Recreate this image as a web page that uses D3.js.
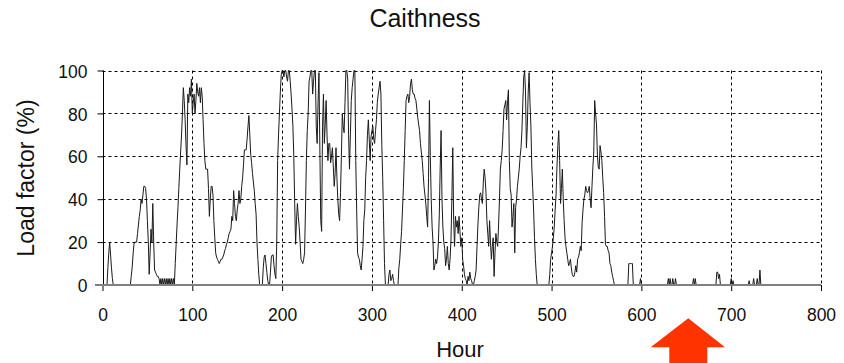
<!DOCTYPE html>
<html>
<head>
<meta charset="utf-8">
<script src="https://cdn.jsdelivr.net/npm/d3@7"></script>
<style>
  html, body { margin: 0; padding: 0; background: #fff; }
  svg { display: block; }
  text { font-family: Arial, "Liberation Sans", sans-serif; fill: #111; }
</style>
</head>
<body>
<script>
// Hourly load factor (%) for Caithness, hours 0..743 (one value per hour)
const loadFactor = [
  0,0,0,0,0,0,8,15,20,14,
  8,3,0,0,0,0,0,0,0,0,
  0,0,0,0,0,0,0,0,0,0,
  0,0,4,8,14,19,20,20,20,24,
  28,32,35,40,38,42,46,46,45,40,
  30,20,5,15,26,20,38,20,7,6,
  5,4,4,3,0,3,0,3,0,3,
  0,3,0,3,0,3,0,3,0,3,
  0,10,19,28,36,45,54,62,70,80,
  92,86,77,65,56,89,85,92,88,96,
  80,85,89,80,86,94,90,88,92,85,
  92,88,77,66,58,54,54,54,45,32,
  40,46,46,42,30,22,15,13,12,11,
  10,11,12,12,13,14,16,17,19,20,
  22,24,25,26,32,30,44,38,32,30,
  35,38,44,38,40,46,50,56,63,63,
  63,68,74,79,70,61,57,52,48,44,
  38,33,20,12,5,0,0,0,0,8,
  13,14,10,6,2,0,0,6,13,14,
  14,9,5,3,20,58,70,80,90,98,
  100,100,97,100,100,97,95,100,100,95,
  89,82,74,60,38,19,30,38,32,27,
  20,12,11,10,12,15,35,58,72,80,
  95,97,100,100,89,95,100,100,74,66,
  85,99,64,30,25,74,89,66,75,86,
  70,58,66,66,57,60,64,55,46,52,
  64,50,40,33,30,43,60,80,74,71,
  85,100,100,96,70,54,70,86,92,96,
  100,100,58,35,15,13,12,9,7,12,
  18,30,35,50,58,70,77,68,58,69,
  72,74,68,66,72,77,85,89,92,95,
  89,65,50,30,10,0,0,0,0,5,
  7,2,3,5,2,0,0,0,0,0,
  8,12,19,25,35,45,58,72,86,88,
  89,85,88,94,96,91,89,89,87,86,
  82,78,75,72,66,62,58,52,46,42,
  38,32,27,50,86,60,40,27,20,7,
  9,12,10,13,20,33,55,72,40,27,
  20,17,9,12,18,10,7,12,21,40,
  64,30,18,32,27,30,24,32,25,18,
  22,12,9,5,3,2,0,4,2,6,
  3,2,0,0,2,4,7,18,28,36,
  42,43,40,38,48,54,50,43,30,24,
  18,30,20,12,18,22,4,15,24,20,
  18,28,40,54,58,63,72,82,84,86,
  77,86,91,58,45,42,27,32,38,15,
  36,40,46,50,54,60,64,72,85,97,
  100,90,64,74,90,99,85,74,55,45,
  35,22,12,5,0,0,0,0,0,0,
  0,0,0,0,0,0,0,0,5,12,
  15,18,22,27,35,42,55,65,72,58,
  38,45,54,40,30,22,18,15,12,9,
  10,12,8,5,4,4,6,9,6,12,
  13,15,18,16,29,35,40,42,46,44,
  43,44,46,40,36,46,55,62,86,80,
  75,61,55,54,65,62,58,50,43,32,
  19,18,18,16,15,10,9,6,4,2,
  0,0,0,0,0,0,0,0,0,0,
  0,0,0,0,0,0,10,10,10,10,
  10,0,0,0,0,0,0,0,0,3,
  0,0,0,0,0,0,0,0,0,0,
  0,0,0,0,0,0,0,0,0,0,
  0,0,0,0,0,0,0,0,0,0,
  3,0,3,0,0,3,0,0,3,0,
  0,0,0,0,0,0,0,0,0,0,
  0,0,0,0,0,0,0,0,3,0,
  3,0,0,0,0,0,0,0,0,0,
  0,0,0,0,0,0,0,0,0,0,
  0,0,0,0,6,6,3,5,0,0,
  0,0,0,0,0,0,0,0,0,0,
  3,0,2,0,0,0,0,0,0,0,
  0,0,0,0,0,0,0,0,0,0,
  2,0,0,0,0,3,0,0,0,3,
  0,0,7,0,0,0,0,0,0,0,
  0,0,0,0
];
const xTicks = [0, 100, 200, 300, 400, 500, 600, 700, 800];
const yTicks = [0, 20, 40, 60, 80, 100];
const titleText = "Caithness";
const xLabel = "Hour";
const yLabel = "Load factor (%)";

const W = 844, H = 363;
const svg = d3.select("body").append("svg").attr("width", W).attr("height", H);
svg.append("rect").attr("width", W).attr("height", H).attr("fill", "#fff");

const x = d3.scaleLinear().domain([0, 800]).range([102.5, 821]);
const y = d3.scaleLinear().domain([0, 100]).range([285, 70.5]);

// grid
const grid = svg.append("g");
grid.selectAll("line.h").data(yTicks.filter(d => d > 0)).join("line")
  .attr("x1", x(0)).attr("x2", x(800))
  .attr("y1", d => Math.round(y(d)) + 0.5).attr("y2", d => Math.round(y(d)) + 0.5)
  .attr("stroke", "#000").attr("stroke-width", 1).attr("stroke-dasharray", "3,3");
grid.selectAll("line.v").data(xTicks.filter(d => d > 0)).join("line")
  .attr("y1", y(100)).attr("y2", y(0))
  .attr("x1", d => Math.round(x(d)) + 0.5).attr("x2", d => Math.round(x(d)) + 0.5)
  .attr("stroke", "#000").attr("stroke-width", 1).attr("stroke-dasharray", "3,3");

// data line
const line = d3.line().x((d, i) => x(i)).y(d => y(d));
svg.append("path").datum(loadFactor).attr("d", line)
  .attr("fill", "none").attr("stroke", "#1a1a1a").attr("stroke-width", 1)
  .attr("stroke-linejoin", "round");

// y axis
const yAxis = d3.axisLeft(y).tickValues(yTicks).tickSize(6).tickPadding(10).tickFormat(d3.format("d"));
const gy = svg.append("g").attr("transform", `translate(${Math.round(x(0)) + 0.5},0)`).call(yAxis);
gy.select(".domain").attr("stroke", "#000").attr("d", `M0,${y(100)}V${y(0)}`);
gy.selectAll(".tick line").attr("stroke", "#000");
gy.selectAll(".tick text").attr("font-size", "17.5px").attr("fill", "#111")
  .attr("font-family", "Arial, 'Liberation Sans', sans-serif").attr("dy", "0.38em");

// x axis
const xAxis = d3.axisBottom(x).tickValues(xTicks).tickSize(6).tickPadding(18).tickFormat(d3.format("d"));
const gx = svg.append("g").attr("transform", `translate(0,${y(0)})`).call(xAxis);
gx.select(".domain").remove();
gx.selectAll(".tick line").attr("stroke", "#000");
gx.selectAll(".tick text").attr("font-size", "17.5px").attr("fill", "#111")
  .attr("font-family", "Arial, 'Liberation Sans', sans-serif").attr("dy", "0.71em");
// grey baseline
svg.append("line").attr("x1", 95).attr("x2", x(800)).attr("y1", y(0)).attr("y2", y(0))
  .attr("stroke", "#808080").attr("stroke-width", 2);

// titles
svg.append("text").attr("x", 425).attr("y", 27).attr("text-anchor", "middle")
  .attr("font-size", "25px").text(titleText);
svg.append("text").attr("x", 460).attr("y", 357).attr("text-anchor", "middle")
  .attr("font-size", "22px").text(xLabel);
svg.append("text").attr("transform", "translate(34,178) rotate(-90)").attr("text-anchor", "middle")
  .attr("font-size", "23px").text(yLabel);

// red arrow
svg.append("path")
  .attr("d", "M688.3,318.3 L725,347.3 L707.3,347.3 L707.3,363 L669.3,363 L669.3,347.3 L650.7,347.3 Z")
  .attr("fill", "#ff3300");
</script>
</body>
</html>
